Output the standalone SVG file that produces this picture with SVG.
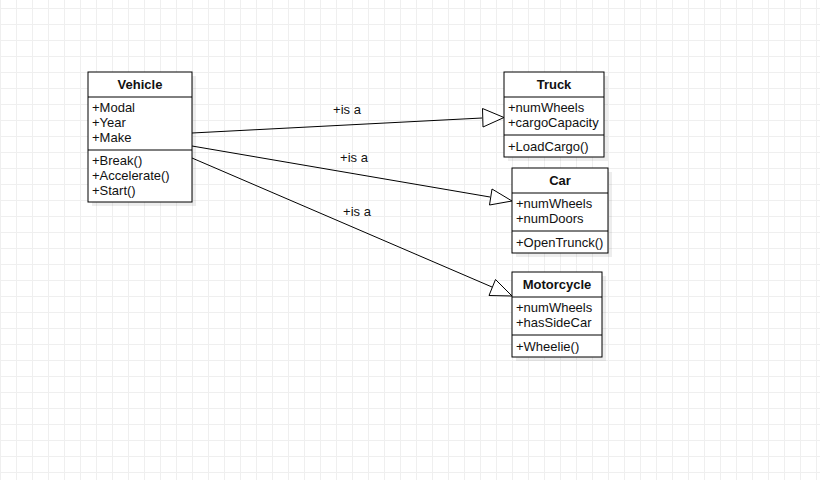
<svg xmlns="http://www.w3.org/2000/svg" width="820" height="480" viewBox="0 0 820 480">
<defs>
<pattern id="grid" patternUnits="userSpaceOnUse" x="0" y="8" width="16" height="16">
<path d="M0.5 0 V16 M0 0.5 H16" stroke="#efefef" stroke-width="1" fill="none"/>
</pattern>
</defs>
<style>
.box{fill:#fff;stroke:#000;stroke-width:1}
.shadow{fill:#000;opacity:0.07}
.sep{stroke:#000;stroke-width:1}
.title{font-family:"Liberation Sans",Arial,sans-serif;font-size:13px;font-weight:bold;fill:#111;text-anchor:middle}
.item{font-family:"Liberation Sans",Arial,sans-serif;font-size:13px;fill:#111}
.edge{stroke:#000;stroke-width:1;fill:none}
.head{fill:#fff;stroke:#000;stroke-width:1}
.lbl{font-family:"Liberation Sans",Arial,sans-serif;font-size:13px;fill:#111;text-anchor:middle}
</style>
<rect width="820" height="480" fill="#fff"/>
<rect width="820" height="480" fill="url(#grid)"/>

<g id="connectors">
<line class="edge" x1="192" y1="133" x2="482" y2="118"/>
<polygon class="head" points="504,117.5 482.5,108.5 483,127"/>
<text class="lbl" x="347" y="114">+is a</text>
<line class="edge" x1="192" y1="146" x2="490" y2="197"/>
<polygon class="head" points="512,201 492,189 489.5,205"/>
<text class="lbl" x="354" y="162">+is a</text>
<line class="edge" x1="192" y1="158" x2="492" y2="287"/>
<polygon class="head" points="512,296 495.5,279.5 489,295.5"/>
<text class="lbl" x="357" y="216">+is a</text>
</g>

<g id="vehicle">
<rect class="shadow" x="92" y="76" width="104" height="130"/>
<rect class="box" x="88" y="72" width="104" height="130"/>
<line class="sep" x1="88" y1="97" x2="192" y2="97"/>
<line class="sep" x1="88" y1="150" x2="192" y2="150"/>
<text class="title" x="140" y="89">Vehicle</text>
<text class="item" x="92" y="112">+Modal</text>
<text class="item" x="92" y="127">+Year</text>
<text class="item" x="92" y="142">+Make</text>
<text class="item" x="92" y="165">+Break()</text>
<text class="item" x="92" y="180">+Accelerate()</text>
<text class="item" x="92" y="195">+Start()</text>
</g>

<g id="truck">
<rect class="shadow" x="508" y="76" width="100" height="85"/>
<rect class="box" x="504" y="72" width="100" height="85"/>
<line class="sep" x1="504" y1="97" x2="604" y2="97"/>
<line class="sep" x1="504" y1="135" x2="604" y2="135"/>
<text class="title" x="554" y="89">Truck</text>
<text class="item" x="508" y="112">+numWheels</text>
<text class="item" x="508" y="127">+cargoCapacity</text>
<text class="item" x="508" y="151">+LoadCargo()</text>
</g>

<g id="car">
<rect class="shadow" x="516" y="172" width="96" height="85"/>
<rect class="box" x="512" y="168" width="96" height="85"/>
<line class="sep" x1="512" y1="193" x2="608" y2="193"/>
<line class="sep" x1="512" y1="231" x2="608" y2="231"/>
<text class="title" x="560" y="185">Car</text>
<text class="item" x="516" y="208">+numWheels</text>
<text class="item" x="516" y="223">+numDoors</text>
<text class="item" x="516" y="247">+OpenTrunck()</text>
</g>

<g id="motorcycle">
<rect class="shadow" x="516" y="276" width="90" height="85"/>
<rect class="box" x="512" y="272" width="90" height="85"/>
<line class="sep" x1="512" y1="297" x2="602" y2="297"/>
<line class="sep" x1="512" y1="335" x2="602" y2="335"/>
<text class="title" x="557" y="289">Motorcycle</text>
<text class="item" x="516" y="312">+numWheels</text>
<text class="item" x="516" y="327">+hasSideCar</text>
<text class="item" x="516" y="351">+Wheelie()</text>
</g>
</svg>
